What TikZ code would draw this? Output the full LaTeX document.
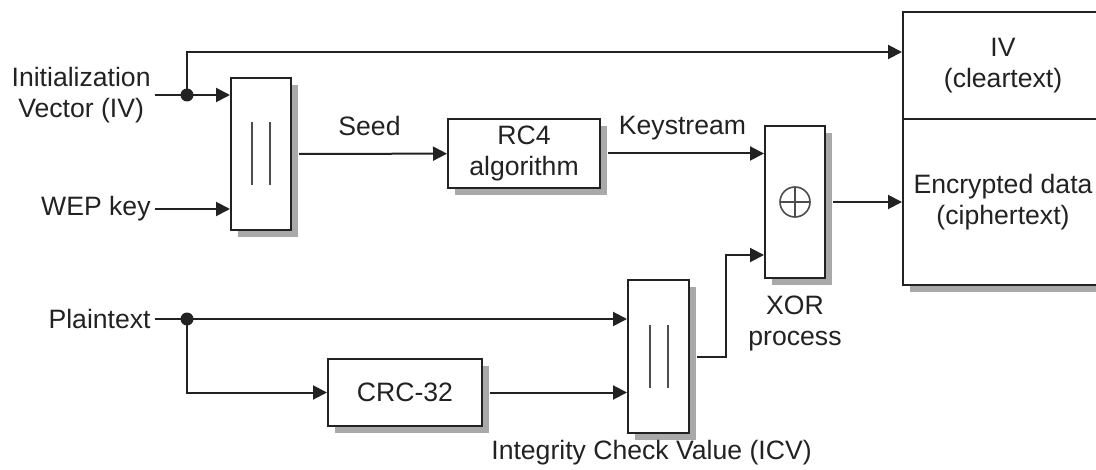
\documentclass[tikz,border=0pt]{standalone}
\usepackage{fontspec}
\setmainfont{Liberation Sans}
\usetikzlibrary{positioning,arrows.meta,shadows}
\definecolor{inkgray}{HTML}{222222}
\definecolor{shadegray}{HTML}{A9A9A9}
\definecolor{bargray}{HTML}{4D4D4D}

\begin{document}
\begin{tikzpicture}[x=0.5pt,y=-0.5pt,font=\fontsize{13.3}{15.5}\selectfont,text=inkgray]
	\tikzset{
		blk/.style={draw=inkgray, line width=1pt, fill=white, inner sep=0pt, align=center,
			drop shadow={shadow xshift=3.5pt, shadow yshift=-3.5pt, fill=shadegray, opacity=1}},
		flow/.style={draw=inkgray, line width=1pt, -{Triangle[length=7pt,width=7pt]}},
		wire/.style={draw=inkgray, line width=1pt},
		bar/.style={draw=bargray, line width=1pt}
	}
	\useasboundingbox (0,0) rectangle (1096,470);
	\clip (0,0) rectangle (1096,470);
	% boxes
	\node[blk, minimum width=30pt, minimum height=76pt] (cat1) at (261,154) {};
	\node[blk, minimum width=76pt, minimum height=34.5pt] (rc4) at (524,153.5) {RC4\\algorithm};
	\node[blk, minimum width=30pt, minimum height=76pt] (xor) at (795,202) {};
	\node[blk, minimum width=30.5pt, minimum height=76.5pt] (cat2) at (658.5,356.5) {};
	\node[blk, minimum width=77pt, minimum height=33.5pt] (crc) at (405,392.5) {CRC-32};
	\node[blk, minimum width=100pt, minimum height=53.5pt] (ivbox) at (1003,65.5) {IV\\(cleartext)};
	\node[blk, minimum width=100pt, minimum height=83pt] (encbox) at (1003,202) {Encrypted data\\(ciphertext)};
	% labels
	\node[anchor=east, inner sep=2pt, align=center] (ivlab) at (155,95) {Initialization\\Vector (IV)};
	\node[anchor=east, inner sep=2pt] (weplab) at (155,209) {WEP key};
	\node[anchor=east, inner sep=2pt] (ptlab) at (155,319) {Plaintext};
	\node[below=5pt of xor, align=center] (xorlab) {XOR\\process};
	\node[below=1pt of cat2, xshift=-3.5pt, inner sep=2pt] (icvlab) {Integrity Check Value (ICV)};
	\coordinate (ivdot) at (187,95);
	\coordinate (ptdot) at (187,319);
	% concatenation bars and the xor sign
	\foreach \b in {cat1,cat2}
		\foreach \dx in {-4.5pt,4.5pt}
			\draw[bar] ([xshift=\dx,yshift=15.75pt]\b.center) -- ([xshift=\dx,yshift=-15.75pt]\b.center);
	\draw[bar, line width=0.8pt] (xor.center) circle (7.5pt);
	\draw[bar, line width=0.8pt] ([xshift=-7.5pt]xor.center) -- ([xshift=7.5pt]xor.center);
	\draw[bar, line width=0.8pt] ([yshift=-7.5pt]xor.center) -- ([yshift=7.5pt]xor.center);
	% connectors
	\draw[wire] (ivlab) -- (ivdot);
	\draw[flow] (ivdot) -- (ivdot -| cat1.west);
	\draw[flow] (ivdot) |- ([yshift=6.75pt]ivbox.west);
	\draw[flow] (weplab) -- (weplab -| cat1.west);
	\draw[flow, shorten <=3.5pt] (cat1) -- node[above=5pt] {Seed} (rc4);
	\draw[flow, shorten <=3.5pt] (rc4.east) -- node[above=3pt] {Keystream} (rc4.east -| xor.west);
	\draw[flow, shorten <=3.5pt] (xor.east) -- (xor.east -| encbox.west);
	\draw[wire] (ptlab) -- (ptdot);
	\draw[flow] (ptdot) -- (ptdot -| cat2.west);
	\draw[flow] (ptdot) |- (crc.west);
	\draw[flow, shorten <=3.5pt] (crc.east) -- (crc.east -| cat2.west);
	\draw[flow, shorten <=3.5pt] (cat2.east) -- ++(18pt,0) |- ([yshift=-26.5pt]xor.west);
	\fill[inkgray] (ivdot) circle (3.25pt);
	\fill[inkgray] (ptdot) circle (3.25pt);
\end{tikzpicture}
\end{document}
